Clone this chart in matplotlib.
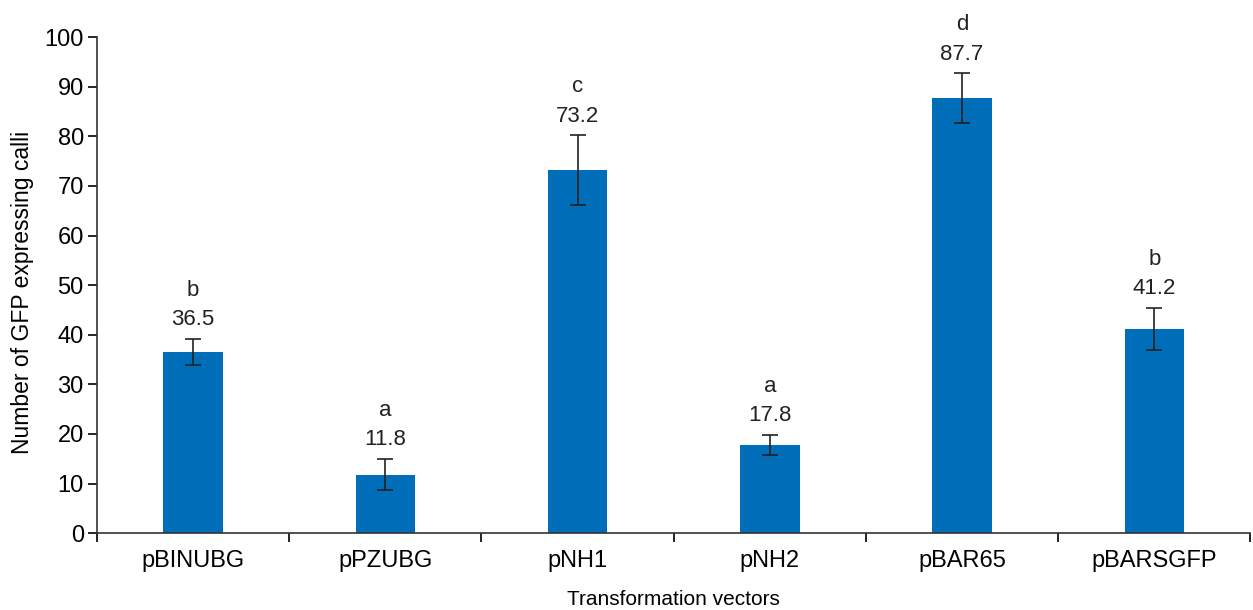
import matplotlib.pyplot as plt
import numpy as np

plt.rcParams['font.family'] = ['Liberation Sans', 'DejaVu Sans']

vectors = ["pBINUBG", "pPZUBG", "pNH1", "pNH2", "pBAR65", "pBARSGFP"]
calli = [36.5, 11.8, 73.2, 17.8, 87.7, 41.2]
errors = [2.6, 3.2, 7.0, 2.0, 5.0, 4.2]
letters = ["b", "a", "c", "a", "d", "b"]

fig = plt.figure(figsize=(12.53, 6.10), dpi=100)
ax = fig.add_axes([0.0774, 0.126, 0.9206, 0.813])

x = np.arange(len(vectors))
ax.bar(x, calli, width=0.31, color="#006EB8", zorder=2)
ax.errorbar(x, calli, yerr=errors, fmt="none", ecolor="#222222",
            elinewidth=1.2, capsize=6, capthick=1.2, zorder=3)

for xi, v, e, let in zip(x, calli, errors, letters):
    ax.annotate(f"{v}", (xi, v + e), xytext=(0, 10), textcoords="offset points",
                ha="center", va="baseline", fontsize=16, color="#222222")
    ax.annotate(let, (xi, v + e), xytext=(0, 31), textcoords="offset points",
                ha="center", va="baseline", fontsize=16, color="#222222")

ax.set_xlim(-0.5, len(vectors) - 0.5)
ax.set_ylim(0, 100)
ax.set_yticks(range(0, 101, 10))
ax.set_xticks(x)
ax.set_xticklabels(vectors)
ax.set_xticks(np.arange(-0.5, len(vectors)), minor=True)
ax.tick_params(axis="x", which="major", length=0, pad=12, labelsize=17)
ax.tick_params(axis="x", which="minor", length=6.5, direction="out", width=1.2)
ax.tick_params(axis="y", length=6.5, width=1.2, labelsize=17, pad=3)

for side in ["top", "right"]:
    ax.spines[side].set_visible(False)
for side in ["left", "bottom"]:
    ax.spines[side].set_linewidth(1.2)
    ax.spines[side].set_color("#333333")

ax.set_xlabel("Transformation vectors", fontsize=15, va="baseline")
ax.xaxis.set_label_coords(0.5, -0.145)
ax.set_ylabel("Number of GFP expressing calli", fontsize=16.5, va="center")
ax.yaxis.set_label_coords(-0.065, 0.486)

fig.savefig("out.png", dpi=100)
